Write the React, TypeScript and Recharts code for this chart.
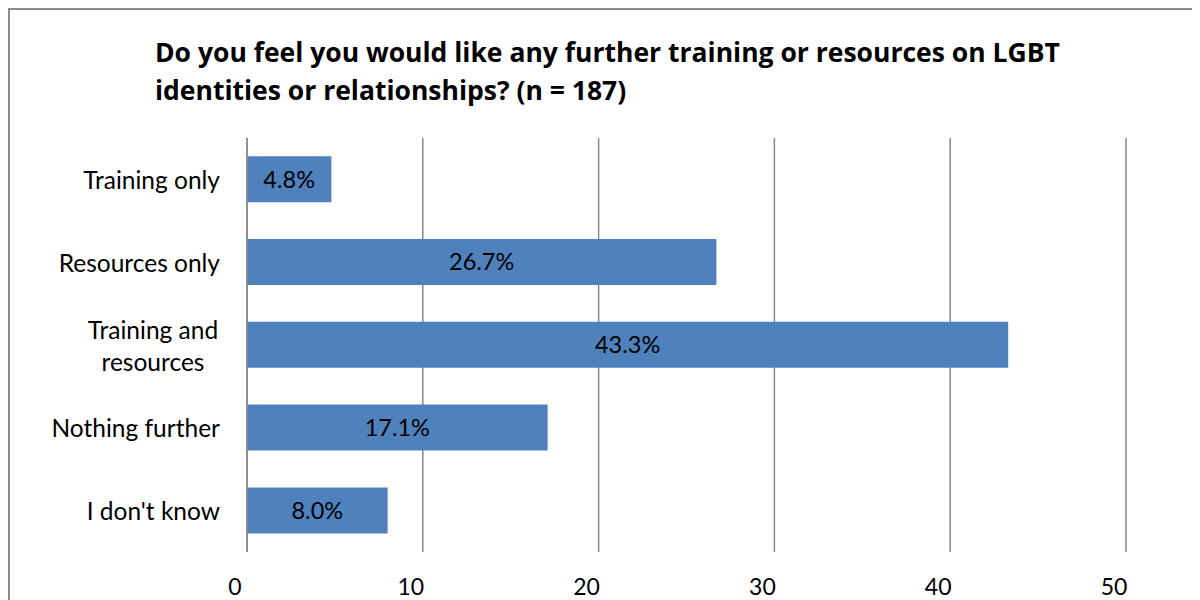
import React from "react";
import { BarChart, Bar, XAxis, YAxis, CartesianGrid, LabelList } from "recharts";

const categories = ["Training only", "Resources only", "Training and resources", "Nothing further", "I don't know"];
const values = [4.8, 26.7, 43.3, 17.1, 8.0];
const xTicks = [0, 10, 20, 30, 40, 50];
const titleLines = [
  "Do you feel you would like any further training or resources on LGBT",
  "identities or relationships? (n = 187)",
];
const wrapped: Record<string, string[]> = {
  "Training and resources": ["Training and", "resources"],
};

const data = categories.map((c, i) => ({ name: c, value: values[i] }));
const FONT = "Lato, 'Open Sans', sans-serif";
const TITLE_FONT = "'Open Sans', Lato, sans-serif";

const YTick = (props: any) => {
  const { x, y, payload } = props;
  const lines = wrapped[payload.value];
  if (lines) {
    const cx = x - 67;
    return (
      <g>
        {lines.map((l, i) => (
          <text key={i} x={cx} y={y + (i - 0.5) * 32} textAnchor="middle" dominantBaseline="central" fontSize={24.5} fill="#000" fontFamily={FONT}>
            {l}
          </text>
        ))}
      </g>
    );
  }
  return (
    <text x={x} y={y} textAnchor="end" dominantBaseline="central" fontSize={24.5} fill="#000" fontFamily={FONT}>
      {payload.value}
    </text>
  );
};

const XTick = (props: any) => {
  const { x, y, payload } = props;
  return (
    <text x={x - 12} y={y + 26} textAnchor="middle" dominantBaseline="central" fontSize={23} fill="#000" fontFamily={FONT}>
      {payload.value}
    </text>
  );
};

export default function App() {
  return (
    <div style={{ position: "relative", width: 1200, height: 600, borderLeft: "2px solid #8c8c8c", borderTop: "2px solid #8c8c8c", boxSizing: "border-box", overflow: "hidden", background: "#fff" }}>
      <style>{`html,body{overflow:hidden;}`}</style>
      <BarChart
        width={1190}
        height={590}
        data={data}
        layout="vertical"
        margin={{ top: 128, right: 74, bottom: 18, left: 0 }}
        barCategoryGap="22%"
      >
        <text x={145} y={42} fontSize={26.5} fontWeight="bold" fontFamily={TITLE_FONT} fill="#000" dominantBaseline="central">
          {titleLines[0]}
        </text>
        <text x={145} y={80} fontSize={26.5} fontWeight="bold" fontFamily={TITLE_FONT} fill="#000" dominantBaseline="central">
          {titleLines[1]}
        </text>
        <CartesianGrid horizontal={false} vertical={true} stroke="#888" strokeWidth={1.5} />
        <XAxis type="number" domain={[0, 50]} ticks={xTicks} axisLine={false} tickLine={false} tick={<XTick />} height={30} interval={0} />
        <YAxis type="category" dataKey="name" width={237} axisLine={{ stroke: "#888", strokeWidth: 1.5 }} tickLine={false} tick={<YTick />} tickMargin={21} interval={0} />
        <Bar dataKey="value" fill="#4F81BD" isAnimationActive={false}>
          <LabelList dataKey="value" position="center" formatter={(v: any) => Number(v).toFixed(1) + "%"} fill="#000" fontSize={23.5} fontFamily={FONT} />
        </Bar>
      </BarChart>
      <div style={{ position: "fixed", left: 1160, top: 11, width: 40, height: 600, background: "#fff", zIndex: 10 }} />
    </div>
  );
}
